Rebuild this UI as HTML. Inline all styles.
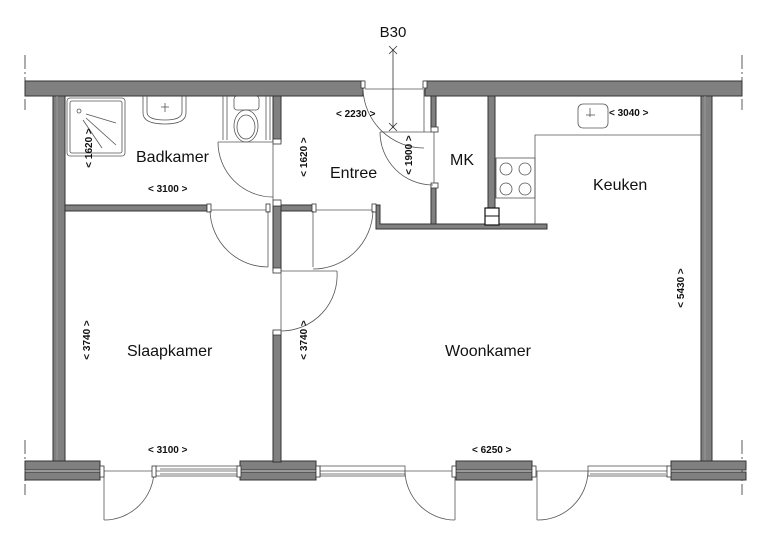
<!DOCTYPE html>
<html><head><meta charset="utf-8"><style>
html,body{margin:0;padding:0;background:#fff}
svg{display:block}
text{font-family:"Liberation Sans",Arial,sans-serif;fill:#111}
.w{fill:#808080;stroke:#333;stroke-width:1}
.t{fill:none;stroke:#555;stroke-width:0.8}
.j{fill:#fff;stroke:#333;stroke-width:0.8}
.d{font-size:10px}
</style></head><body>
<svg width="768" height="554" viewBox="0 0 768 554" xmlns="http://www.w3.org/2000/svg">
<g stroke="#333" stroke-width="0.8" stroke-dasharray="14,3,2,3">
<line x1="25" y1="55" x2="25" y2="110"/><line x1="742" y1="55" x2="742" y2="110"/>
<line x1="25" y1="440" x2="25" y2="495"/><line x1="742" y1="440" x2="742" y2="495"/>
</g>
<rect class="w" x="25" y="81" width="338" height="15"/>
<rect class="w" x="425" y="81" width="317" height="15"/>
<rect class="j" x="361" y="81" width="4" height="7"/><rect class="j" x="423" y="81" width="4" height="7"/>
<rect class="w" x="53" y="96" width="12" height="366"/>
<line x1="57" y1="96" x2="57" y2="461" stroke="#999" stroke-width="1"/>
<rect class="w" x="701" y="96" width="11" height="366"/>
<line x1="705" y1="96" x2="705" y2="461" stroke="#999" stroke-width="1"/>
<g>
<rect class="w" x="25" y="461" width="75" height="9"/><rect class="w" x="25" y="472" width="75" height="8"/>
<rect class="w" x="240" y="461" width="76" height="9"/><rect class="w" x="240" y="472" width="76" height="8"/>
<rect class="w" x="456" y="461" width="76" height="9"/><rect class="w" x="456" y="472" width="76" height="8"/>
<rect class="w" x="671" y="461" width="75" height="9"/><rect class="w" x="671" y="472" width="75" height="8"/>
</g>
<g class="t">
<line x1="100" y1="471" x2="240" y2="471"/>
<rect x="156" y="466" width="84" height="10"/><line x1="160" y1="469" x2="238" y2="469"/><line x1="160" y1="474" x2="238" y2="474"/>
<line x1="316" y1="471" x2="456" y2="471"/>
<rect x="320" y="466" width="85" height="10"/><line x1="320" y1="474" x2="405" y2="474"/>
<line x1="532" y1="471" x2="671" y2="471"/>
<rect x="588" y="466" width="80" height="10"/><line x1="590" y1="474" x2="666" y2="474"/>
<line x1="104" y1="471" x2="104" y2="520"/><path d="M104 520 A50 50 0 0 0 154 471"/>
<line x1="455" y1="471" x2="455" y2="520"/><path d="M455 520 A50 50 0 0 1 405 471"/>
<line x1="537" y1="471" x2="537" y2="520"/><path d="M537 520 A50 50 0 0 0 588 471"/>
</g>
<g>
<rect class="j" x="100" y="466" width="4" height="11"/><rect class="j" x="152" y="466" width="4" height="11"/><rect class="j" x="237" y="466" width="4" height="11"/>
<rect class="j" x="316" y="466" width="4" height="11"/><rect class="j" x="452" y="466" width="4" height="11"/>
<rect class="j" x="532" y="466" width="4" height="11"/><rect class="j" x="667" y="466" width="4" height="11"/>
</g>
<rect class="w" x="65" y="205" width="142" height="6"/>
<rect class="w" x="273" y="96" width="8" height="45"/>
<rect class="w" x="273" y="206" width="8" height="64"/>
<rect class="w" x="273" y="332" width="8" height="130"/>
<rect class="w" x="281" y="205" width="32" height="6"/>
<path class="w" d="M376 205 H380 V224 H547 V229 H376 Z"/>
<rect class="w" x="431" y="96" width="5" height="32"/>
<rect class="w" x="431" y="186" width="5" height="38"/>
<rect class="w" x="488" y="96" width="7" height="113"/>
<rect x="485" y="208" width="14" height="17" fill="#fff" stroke="#111" stroke-width="1.2"/><line x1="485" y1="216" x2="499" y2="216" stroke="#111"/>
<g>
<rect class="j" x="273" y="139" width="8" height="5"/>
<rect class="j" x="207" y="204" width="4" height="8"/><rect class="j" x="266" y="204" width="4" height="8"/>
<rect class="j" x="273" y="200" width="8" height="6"/><rect class="j" x="273" y="268" width="8" height="5"/>
<rect class="j" x="273" y="330" width="8" height="5"/>
<rect class="j" x="312" y="204" width="4" height="8"/><rect class="j" x="372" y="204" width="4" height="8"/>
<rect class="j" x="431" y="127" width="7" height="5"/><rect class="j" x="431" y="183" width="7" height="5"/>
</g>
<g class="t">
<line x1="218" y1="142" x2="273" y2="142"/><path d="M218 142 A55 55 0 0 0 273 197"/>
<line x1="273" y1="144" x2="273" y2="205"/>
<line x1="211" y1="210" x2="266" y2="210"/><line x1="268" y1="211" x2="268" y2="267"/><path d="M210 211 A58 58 0 0 0 268 267"/>
<line x1="316" y1="210" x2="372" y2="210"/><line x1="313" y1="211" x2="313" y2="267"/><path d="M373 211 A60 60 0 0 1 313 269"/>
<line x1="281" y1="273" x2="281" y2="330"/><line x1="281" y1="271" x2="337" y2="271"/><path d="M337 271 A56 56 0 0 1 281 331"/>
<line x1="365" y1="89" x2="423" y2="89"/><line x1="424" y1="89" x2="424" y2="132"/><path d="M363 89 A61 61 0 0 0 424 148"/>
<line x1="380" y1="132" x2="431" y2="132"/><path d="M380 132 A53 53 0 0 0 433 185"/>
<line x1="434" y1="132" x2="434" y2="183"/>
</g>
<g stroke="#333" stroke-width="0.8">
<line x1="393" y1="49" x2="393" y2="128"/>
<line x1="389" y1="46" x2="397" y2="54"/><line x1="397" y1="46" x2="389" y2="54"/>
<line x1="389" y1="123" x2="397" y2="131"/><line x1="397" y1="123" x2="389" y2="131"/>
</g>
<text x="393" y="37" font-size="15" text-anchor="middle">B30</text>
<g class="t">
<rect x="67" y="98" width="58" height="58" rx="3"/><rect x="70" y="101" width="52" height="52" rx="2"/>
<circle cx="79" cy="111" r="2"/>
<line x1="86" y1="114" x2="116" y2="123"/><line x1="86" y1="118" x2="116" y2="145"/><line x1="83" y1="120" x2="102" y2="148"/>
<path d="M143 96 V113 Q143 124 165 124 Q186 124 186 113 V96"/><path d="M147 96 V112 Q147 120 165 120 Q182 120 182 112 V96"/>
<line x1="165" y1="103" x2="165" y2="112"/><line x1="161" y1="107" x2="169" y2="107"/>
<line x1="223" y1="96" x2="223" y2="140"/><line x1="227" y1="96" x2="227" y2="140"/>
<line x1="266" y1="96" x2="266" y2="140"/><line x1="270" y1="96" x2="270" y2="140"/>
<rect x="234" y="96" width="25" height="14" rx="3"/>
<ellipse cx="246" cy="126" rx="12" ry="16"/><ellipse cx="246" cy="127" rx="9" ry="12"/>
<path d="M535 224 V135 H701"/>
<rect x="496" y="158" width="39" height="40"/>
<circle cx="506" cy="169" r="6"/><circle cx="525" cy="169" r="6"/><circle cx="506" cy="189" r="6"/><circle cx="525" cy="189" r="6"/>
<rect x="578" y="104" width="30" height="24" rx="5"/>
<line x1="590" y1="108" x2="590" y2="117"/><line x1="586" y1="115" x2="595" y2="115"/>
</g>
<g font-size="16">
<text x="136" y="162">Badkamer</text>
<text x="330" y="178">Entree</text>
<text x="450" y="165">MK</text>
<text x="593" y="190">Keuken</text>
<text x="127" y="356">Slaapkamer</text>
<text x="445" y="356">Woonkamer</text>
</g>
<g class="d" font-weight="bold">
<text x="148" y="192">&lt; 3100 &gt;</text>
<text x="336" y="117">&lt; 2230 &gt;</text>
<text x="609" y="116">&lt; 3040 &gt;</text>
<text x="148" y="453">&lt; 3100 &gt;</text>
<text x="472" y="453">&lt; 6250 &gt;</text>
<text transform="translate(92,148) rotate(-90)" text-anchor="middle">&lt; 1620 &gt;</text>
<text transform="translate(307,157) rotate(-90)" text-anchor="middle">&lt; 1620 &gt;</text>
<text transform="translate(412,155) rotate(-90)" text-anchor="middle">&lt; 1900 &gt;</text>
<text transform="translate(90,340) rotate(-90)" text-anchor="middle">&lt; 3740 &gt;</text>
<text transform="translate(307,340) rotate(-90)" text-anchor="middle">&lt; 3740 &gt;</text>
<text transform="translate(684,288) rotate(-90)" text-anchor="middle">&lt; 5430 &gt;</text>
</g>
</svg>
</body></html>
